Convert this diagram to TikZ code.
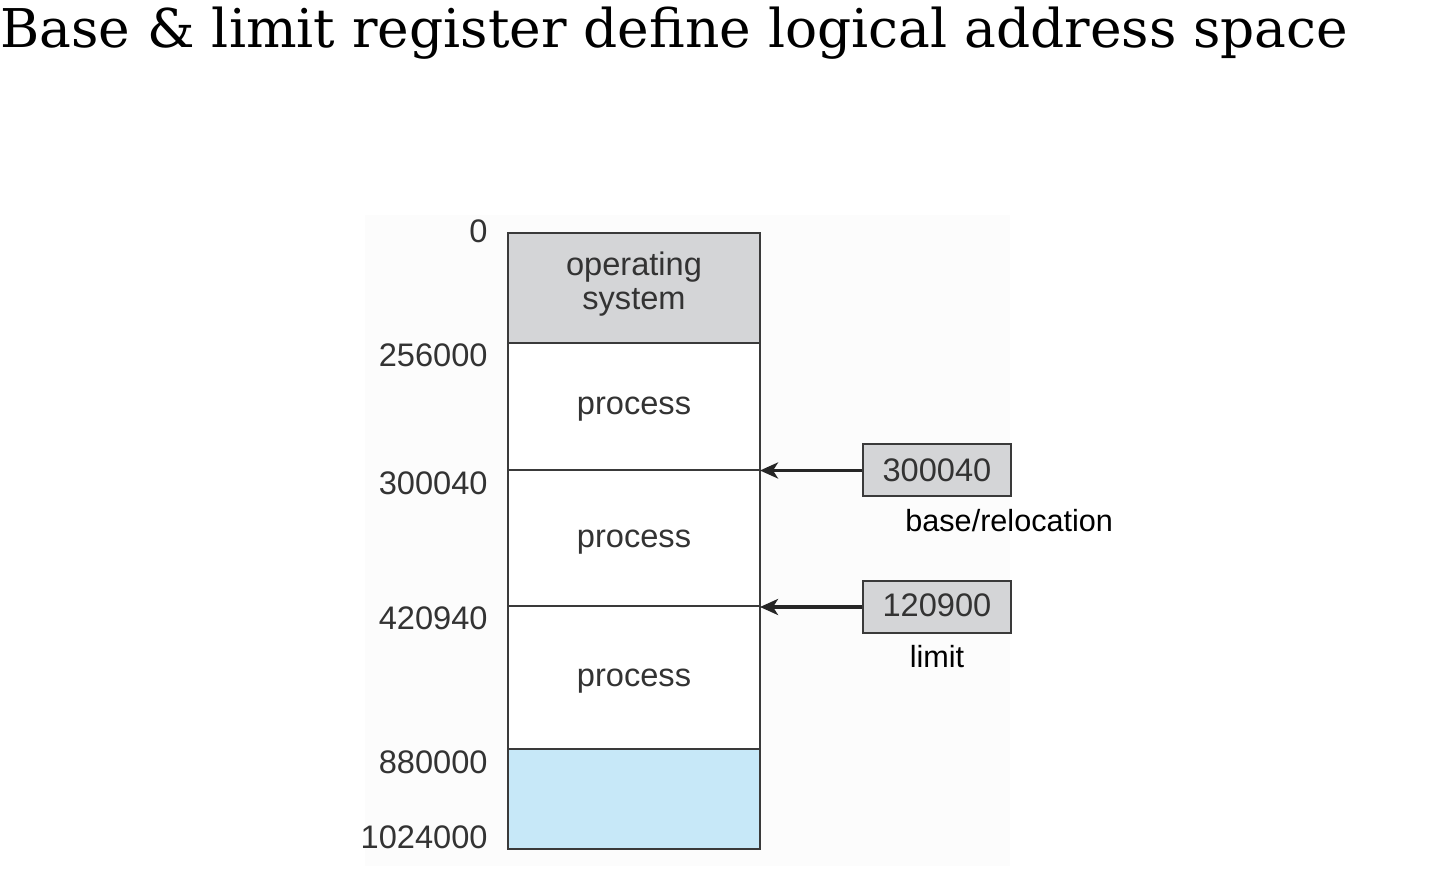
\documentclass[tikz,border=0pt]{standalone}
\usepackage{fontspec}
\setmainfont{Liberation Sans}
\newfontfamily\titlefont{DejaVu Serif}
\usetikzlibrary{arrows.meta}
\definecolor{osgray}{HTML}{D4D5D7}
\definecolor{freeblue}{HTML}{C7E8F8}
\definecolor{txtgray}{HTML}{333333}
\definecolor{edgegray}{HTML}{3A3A3A}
\definecolor{paper}{HTML}{FCFCFC}
\begin{document}
\begin{tikzpicture}[x=0.5pt,y=-0.5pt,
  seg/.style={draw=edgegray,line width=1pt},
  lbl/.style={font=\fontsize{16.3}{18}\selectfont,text=txtgray,anchor=base east,inner sep=0pt},
  intext/.style={font=\fontsize{16.3}{17.5}\selectfont,text=txtgray,align=center,inner sep=0pt,anchor=base},
  regbox/.style={draw=edgegray,line width=1pt,fill=osgray,minimum width=74pt,minimum height=26pt,inner sep=0pt},
  regtext/.style={font=\fontsize{16.3}{18}\selectfont,text=txtgray,inner sep=0pt,anchor=base},
  regarrow/.style={-{Stealth[length=9pt,width=8pt,inset=2.5pt]},line width=1.6pt,draw=black!85},
  captext/.style={font=\fontsize{15.3}{17}\selectfont,text=black,inner sep=0pt,anchor=base}]
\useasboundingbox (0,0) rectangle (1446,876);
\fill[paper] (365,215) rectangle (1010,866);
% title
\node[anchor=base west,inner sep=0pt,font=\titlefont\fontsize{26.7}{30}\selectfont] (title) at (0,48) {Base \& limit register define logical address space};
% memory segments
\path[seg,fill=osgray] (508,233) rectangle (760,343);
\path[seg,fill=white] (508,343) rectangle (760,470);
\path[seg,fill=white] (508,470) rectangle (760,606);
\path[seg,fill=white] (508,606) rectangle (760,749);
\path[seg,fill=freeblue] (508,749) rectangle (760,849);
\node[intext] (os) at (634,276) {operating};
\node[intext] (os2) at (634,310) {system};
\node[intext] (p1) at (634,415) {process};
\node[intext] (p2) at (634,548) {process};
\node[intext] (p3) at (634,687) {process};
% address labels
\node[lbl] (a0) at (488,243) {0};
\node[lbl] (a1) at (488,367) {256000};
\node[lbl] (a2) at (488,495) {300040};
\node[lbl] (a3) at (488,630) {420940};
\node[lbl] (a4) at (488,773) {880000};
\node[lbl] (a5) at (488,848) {1024000};
% registers
\node[regbox] (base) at (937,470.5) {};
\node[regbox] (limit) at (937,607) {};
\node[regtext] (basev) at (937,482) {300040};
\node[regtext] (limitv) at (937,617) {120900};
\coordinate (bt) at (760,470.5);
\coordinate (lt) at (760,607);
\draw[regarrow] (base.west) -- (bt);
\draw[regarrow] (limit.west) -- (lt);
\node[captext,anchor=base west] (basecap) at (905,532) {base/relocation};
\node[captext] (limitcap) at (937,668) {limit};
\end{tikzpicture}
\end{document}
